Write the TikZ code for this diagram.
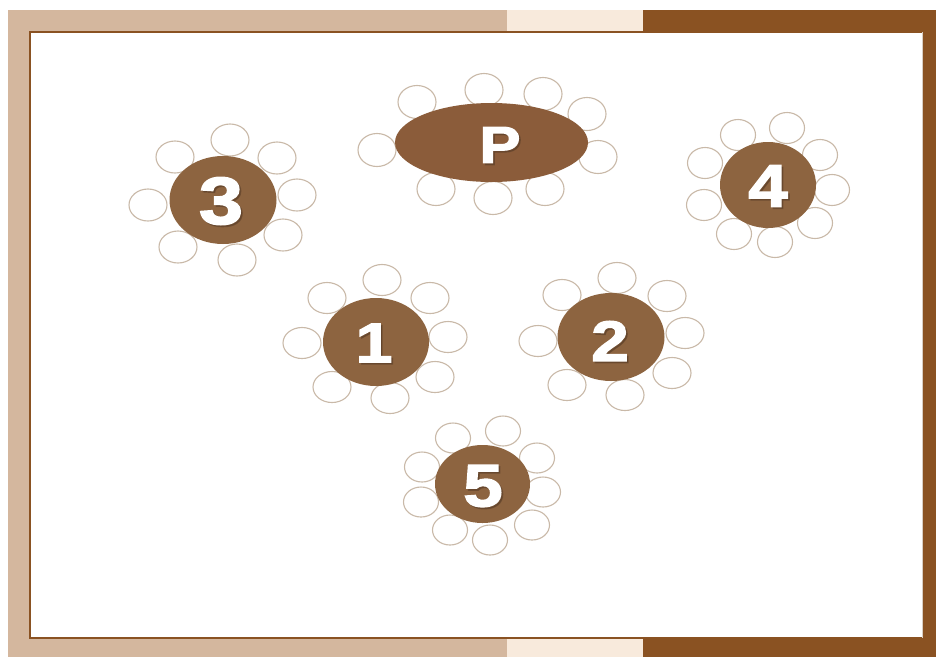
\documentclass[tikz,border=0pt]{standalone}
\usepackage{fontspec}
\setmainfont{Liberation Sans}
\newfontfamily\heavyfont[FakeBold=2.2]{Liberation Sans Bold}
\usetikzlibrary{shapes.geometric}
\definecolor{tanc}{HTML}{D4B79E}
\definecolor{creamc}{HTML}{F8EADC}
\definecolor{brownc}{HTML}{8A5222}
\definecolor{tablec}{HTML}{8D6440}
\definecolor{ptablec}{HTML}{8B5C3A}
\definecolor{chairc}{HTML}{C9B9A8}
\definecolor{shadowc}{HTML}{5A3E28}
\tikzset{
  chair/.style={ellipse, draw=chairc, line width=1.1pt, fill=white, inner sep=0pt, minimum width=#1},
  chair/.default=37,
  tbl/.style={ellipse, fill=tablec, inner sep=0pt},
  numtxt/.style={text=white, inner sep=0pt, font=\heavyfont},
  numshadow/.style={text=shadowc, inner sep=0pt, font=\heavyfont, opacity=0.55}
}
\newcommand{\tnum}[5]{% name, x, y, size, text
  \node[numshadow] at (#2+1.8,#3+1.8) {\fontsize{#4}{#4}\selectfont\scalebox{1.18}[1]{#5}};
  \node[numtxt] (#1) at (#2,#3) {\fontsize{#4}{#4}\selectfont\scalebox{1.18}[1]{#5}};
}
\begin{document}
\begin{tikzpicture}[x=1pt,y=-1pt]
\useasboundingbox (0,0) rectangle (936,657);
\fill[white] (0,0) rectangle (936,657);
% frame bands
\fill[tanc] (8,10) rectangle (507,657);
\fill[creamc] (507,10) rectangle (643,657);
\fill[brownc] (643,10) rectangle (936,657);
\fill[tanc] (8,10) rectangle (30,657);
\fill[brownc] (922,10) rectangle (936,657);
% inner white area
\fill[white] (30,32) rectangle (922,638);
\draw[brownc, line width=1.3pt] (922,638) -- (30,638) -- (30,32) -- (922,32);
\draw[chairc!70, line width=0.8pt] (922,32) -- (922,638);

% ---------- Table P ----------
\foreach \x/\y [count=\i] in {417/102,484/90,543/94,587/114,598/157,377/150,436/189,493/198,545/189}
  \node[chair=38, minimum height=33] (tPc\i) at (\x,\y) {};
\node[ellipse, fill=ptablec, inner sep=0pt, minimum width=193, minimum height=79] (tP) at (491.5,142.5) {};
\tnum{nP}{500}{145}{52}{P}

% ---------- Table 3 ----------
\foreach \x/\y [count=\i] in {230/140,175/157,277/158,148/205,297/195,178/247,237/260,283/235}
  \node[chair=38, minimum height=32] (t3c\i) at (\x,\y) {};
\node[tbl, minimum width=107, minimum height=88] (t3) at (223,200) {};
\tnum{n3}{221}{201}{67}{3}

% ---------- Table 4 ----------
\foreach \x/\y [count=\i] in {738/135,787/128,820/155,832/190,815/223,775/242,734/234,704/205,705/163}
  \node[chair=35, minimum height=31] (t4c\i) at (\x,\y) {};
\node[tbl, minimum width=96, minimum height=86] (t4) at (768,185) {};
\tnum{n4}{768}{186}{60}{4}

% ---------- Table 1 ----------
\foreach \x/\y [count=\i] in {382/280,327/298,430/298,302/343,448/337,332/387,390/398,435/377}
  \node[chair=38, minimum height=31] (t1c\i) at (\x,\y) {};
\node[tbl, minimum width=106, minimum height=88] (t1) at (376,342) {};
\tnum{n1}{374}{343}{56}{1}

% ---------- Table 2 ----------
\foreach \x/\y [count=\i] in {617/278,562/295,667/296,538/341,685/333,567/385,625/395,672/373}
  \node[chair=38, minimum height=31] (t2c\i) at (\x,\y) {};
\node[tbl, minimum width=107, minimum height=88] (t2) at (611,337) {};
\tnum{n2}{610}{341}{57}{2}

% ---------- Table 5 ----------
\foreach \x/\y [count=\i] in {453/438,503/431,537/458,543/492,532/525,490/540,450/530,421/502,422/467}
  \node[chair=35, minimum height=30] (t5c\i) at (\x,\y) {};
\node[tbl, minimum width=95, minimum height=78] (t5) at (482.5,484) {};
\tnum{n5}{483}{486}{60}{5}
\end{tikzpicture}
\end{document}
